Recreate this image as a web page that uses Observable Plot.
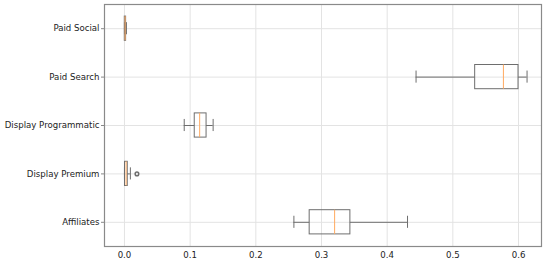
<!DOCTYPE html>
<html><head><meta charset="utf-8">
<script src="https://cdn.jsdelivr.net/npm/d3@7"></script>
<script src="https://cdn.jsdelivr.net/npm/@observablehq/plot@0.6"></script>
<style>body{margin:0;background:#fff;}</style>
</head><body><div id="chart"></div>
<script>
const channels = ["Paid Social", "Paid Search", "Display Programmatic", "Display Premium", "Affiliates"];
const positions = [5, 4, 3, 2, 1];
const whiskerLow  = [0.0,    0.444, 0.091,  0.0,    0.258];
const q1          = [0.0005, 0.534, 0.107,  0.0008, 0.282];
const median      = [0.001,  0.577, 0.1145, 0.0025, 0.320];
const q3          = [0.0025, 0.600, 0.125,  0.005,  0.344];
const whiskerHigh = [0.003,  0.613, 0.135,  0.009,  0.431];
const outlierChannels = ["Display Premium"];
const outlierValues = [0.019];
const xTicks = [0.0, 0.1, 0.2, 0.3, 0.4, 0.5, 0.6];

const boxes = channels.map((c, i) => ({
  channel: c, pos: positions[i], lo: whiskerLow[i], q1: q1[i], med: median[i], q3: q3[i], hi: whiskerHigh[i]
}));
const outliers = outlierChannels.map((c, i) => ({pos: positions[channels.indexOf(c)], value: outlierValues[i]}));

const half = 0.25, capHalf = 0.125;
const edge = "#6e6e6e";

const chart = Plot.plot({
  width: 550,
  height: 261,
  marginLeft: 104,
  marginRight: 9,
  marginTop: 4,
  marginBottom: 15,
  style: {fontFamily: "DejaVu Sans", fontSize: "8.6px", color: "#222", background: "#fff"},
  x: {domain: [-0.0304, 0.635], label: null},
  y: {domain: [0.5, 5.5], label: null},
  marks: [
    Plot.gridX(xTicks, {stroke: "#e3e3e3", strokeOpacity: 1}),
    Plot.gridY(positions, {stroke: "#e3e3e3", strokeOpacity: 1}),
    Plot.ruleY(boxes, {y: "pos", x1: "lo", x2: "q1", stroke: edge}),
    Plot.ruleY(boxes, {y: "pos", x1: "q3", x2: "hi", stroke: edge}),
    Plot.ruleX(boxes, {x: "lo", y1: d => d.pos - capHalf, y2: d => d.pos + capHalf, stroke: edge}),
    Plot.ruleX(boxes, {x: "hi", y1: d => d.pos - capHalf, y2: d => d.pos + capHalf, stroke: edge}),
    Plot.rect(boxes, {x1: "q1", x2: "q3", y1: d => d.pos - half, y2: d => d.pos + half, fill: "none", stroke: edge}),
    Plot.ruleX(boxes, {x: "med", y1: d => d.pos - half, y2: d => d.pos + half, stroke: "#ffaa60"}),
    Plot.dot(outliers, {x: "value", y: "pos", r: 1.8, stroke: edge, fill: "none"}),
    Plot.frame({stroke: "#8a8a8a", strokeWidth: 1.2}),
    Plot.axisX(xTicks, {tickSize: 0, tickPadding: 5, tickFormat: d3.format(".1f"), label: null}),
    Plot.axisY(positions, {tickSize: 3, tickPadding: 2, stroke: "#888", tickFormat: p => channels[positions.indexOf(p)], label: null})
  ]
});
document.getElementById("chart").appendChild(chart);
</script>
</body></html>
